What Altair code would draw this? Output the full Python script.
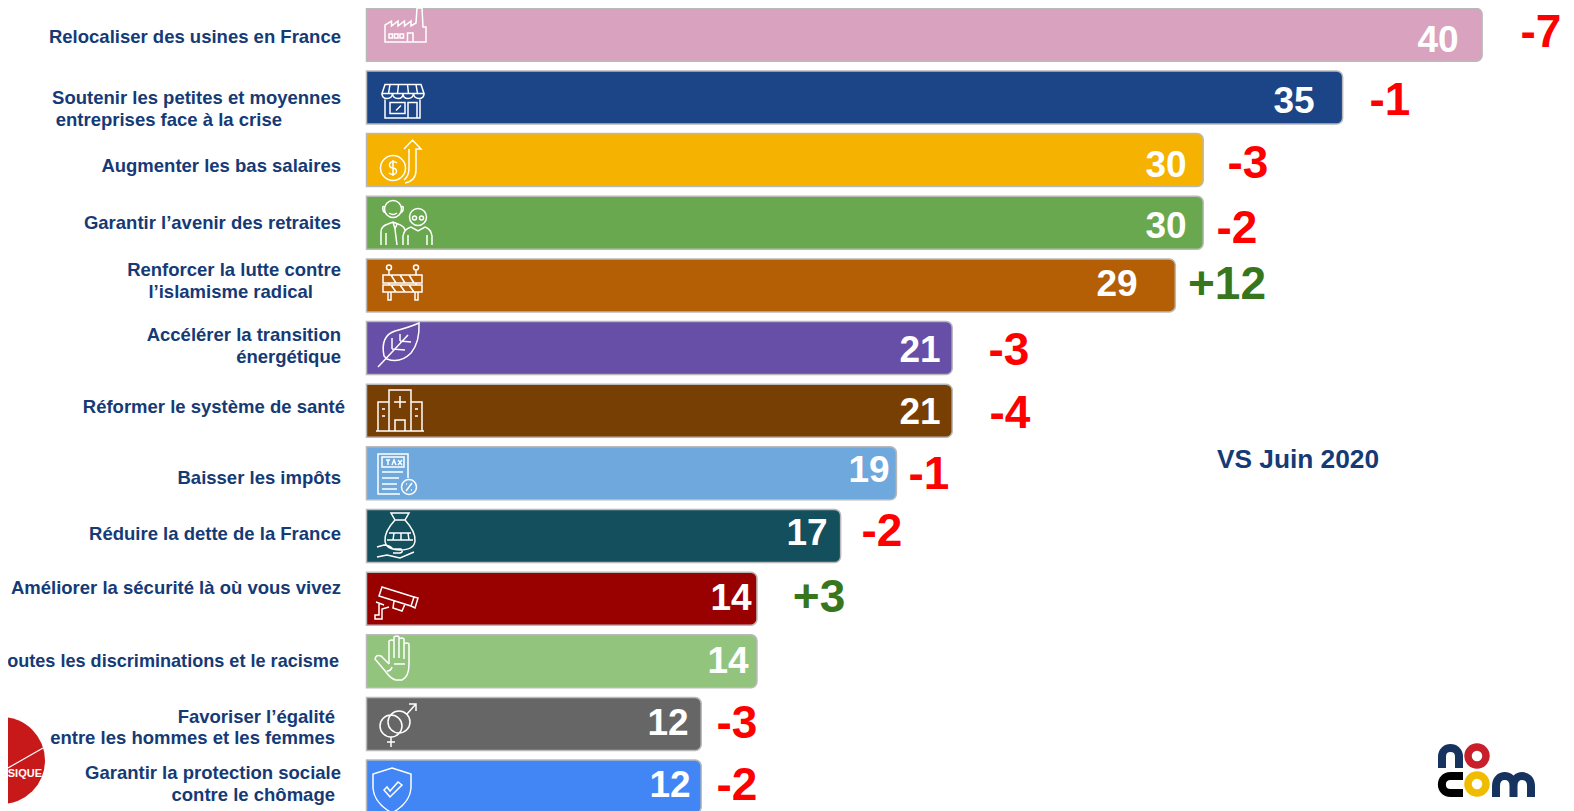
import re
import altair as alt
import pandas as pd

# ---------- chart values ----------
categories = [
    "Relocaliser des usines en France",
    "Soutenir les petites et moyennes entreprises face à la crise",
    "Augmenter les bas salaires",
    "Garantir l’avenir des retraites",
    "Renforcer la lutte contre l’islamisme radical",
    "Accélérer la transition énergétique",
    "Réformer le système de santé",
    "Baisser les impôts",
    "Réduire la dette de la France",
    "Améliorer la sécurité là où vous vivez",
    "Lutter contre toutes les discriminations et le racisme",
    "Favoriser l’égalité entre les hommes et les femmes",
    "Garantir la protection sociale contre le chômage",
]
values = [40, 35, 30, 30, 29, 21, 21, 19, 17, 14, 14, 12, 12]
deltas = ["-7", "-1", "-3", "-2", "+12", "-3", "-4", "-1", "-2", "+3", "", "-3", "-2"]
colors = ["#d9a2bf", "#1c4587", "#f5b200", "#6aa84f", "#b45f06", "#674ea7", "#783f04",
          "#6fa8dc", "#134f5c", "#990000", "#93c47d", "#666666", "#4285f4"]
label_lines = [
    "Relocaliser des usines en France",
    "Soutenir les petites et moyennes", "entreprises face à la crise",
    "Augmenter les bas salaires",
    "Garantir l’avenir des retraites",
    "Renforcer la lutte contre", "l’islamisme radical",
    "Accélérer la transition", "énergétique",
    "Réformer le système de santé",
    "Baisser les impôts",
    "Réduire la dette de la France",
    "Améliorer la sécurité là où vous vivez",
    "outes les discriminations et le racisme",
    "Favoriser l’égalité", "entre les hommes et les femmes",
    "Garantir la protection sociale", "contre le chômage",
]

# ---------- layout of the annotations, in page pixels ----------
label_right = [341, 341, 282, 341, 341, 341, 313, 341, 341, 345, 341, 341, 341, 339, 335, 335, 341, 335]
label_y = [36.5, 97.5, 119.5, 166, 223, 270, 292, 335, 357, 406.5, 478, 534, 588, 662, 717, 738, 773, 795]
label_size = [18.5] * 13 + [18.1] + [18.5] * 4
value_x = [1438, 1294, 1166, 1166, 1117, 920, 920, 869, 807, 731, 728, 668, 670]
value_y = [40.5, 101.5, 165.5, 226.5, 284.5, 350.5, 412.5, 470.5, 534, 598.5, 661.5, 723.5, 785.5]
delta_x = [1541, 1390, 1248, 1237, 1227, 1009, 1010, 929, 882, 819, 0, 737, 737]
delta_y = [33, 101, 164, 229, 285, 351, 414, 475, 532, 598, 0, 724, 786]
icon_x = [405, 403, 400, 405, 403, 400, 400, 400, 400, 397, 390, 395, 392]
icon_y = [25, 97.5, 160, 222, 283, 345, 410, 475, 535, 597, 658, 724, 790]

X0, PX_PER_UNIT, Y0, PX_PER_ROW = 366.5, 27.89, 34.8, 62.65
def X(px): return (px - X0) / PX_PER_UNIT
def Y(py): return (py - Y0) / PX_PER_ROW

xs = alt.Scale(domain=[X(8), X(1566)], nice=False, zero=False, padding=0)
ys = alt.Scale(domain=[Y(8), Y(811)], nice=False, zero=False, reverse=True, padding=0)
def ex(f="x"): return alt.X(f"{f}:Q", scale=xs, axis=None)
def ey(f="y"): return alt.Y(f"{f}:Q", scale=ys, axis=None)

# ---------- icons: drawn in a 100x100 box, turned into the symbol's -1..1 space ----------
def ring(cx, cy, r):
    k = 0.5523 * r
    return (f"M{cx-r} {cy} C{cx-r} {cy-k} {cx-k} {cy-r} {cx} {cy-r} "
            f"C{cx+k} {cy-r} {cx+r} {cy-k} {cx+r} {cy} "
            f"C{cx+r} {cy+k} {cx+k} {cy+r} {cx} {cy+r} "
            f"C{cx-k} {cy+r} {cx-r} {cy+k} {cx-r} {cy} Z ")

def norm(p):
    nums = re.compile(r"-?\d+\.?\d*")
    return nums.sub(lambda m: f"{float(m.group())/50-1:.3f}", p)

icons = [
    # factory
    "M10 84 L10 54 L10 50 L23 42 L23 52 L36 42 L36 52 L49 42 L49 52 L62 42 L62 52 L72 46 L74 16 L84 16 L86 54 L92 54 L92 84 Z "
    "M18 68 L25 68 L25 76 L18 76 Z M29 68 L36 68 L36 76 L29 76 Z M40 68 L47 68 L47 76 L40 76 Z M55 84 L55 66 L66 66 L66 84",
    # shop
    "M14 24 L86 24 L92 42 L8 42 Z M8 42 Q8 52 18 52 Q28 52 29 42 Q30 52 40 52 Q50 52 50 42 Q50 52 60 52 Q70 52 71 42 Q72 52 82 52 Q92 52 92 42 "
    "M24 24 L21 42 M41 24 L39 42 M59 24 L61 42 M76 24 L79 42 "
    "M14 54 L14 91 L84 91 L84 54 M24 60 L54 60 L54 82 L24 82 Z M60 91 L60 60 L78 60 L78 91 M36 76 L46 66",
    # coin and arrow
    ring(36, 66, 25) + "M44 56 Q36 50 30 56 Q26 65 36 66 Q46 68 42 76 Q36 82 28 76 M36 50 L36 82 "
    "M58 28 L75 10 L92 28 L82 28 L82 70 Q82 92 60 96 M68 28 L68 66 Q68 82 58 90",
    # elderly couple
    ring(26, 24, 17) + ring(76, 40, 17) + ring(69, 42, 4) + ring(83, 42, 4) +
    "M9 20 Q4 16 6 26 Q8 32 10 30 M43 20 Q48 16 46 26 Q44 32 42 30 M18 32 Q26 38 34 32 "
    "M2 96 L2 70 Q2 58 16 54 L26 50 L36 54 Q48 58 50 66 M12 96 L12 72 M26 50 L30 64 L34 54 M30 64 L34 96 "
    "M46 96 L46 78 Q48 64 62 60 L76 68 L90 60 Q102 64 104 78 L104 96 M56 96 L56 76 M94 96 L94 76",
    # barrier
    "M10 34 L88 34 L88 50 L10 50 Z M10 54 L88 54 L88 68 L10 68 Z M22 34 L22 24 M76 34 L76 24 "
    + ring(22, 19, 5) + ring(76, 19, 5) +
    "M22 50 L22 54 M76 50 L76 54 M20 68 L20 84 L26 84 L26 68 M74 68 L74 84 L80 84 L80 68 "
    "M26 34 L36 50 M44 34 L54 50 M62 34 L72 50 M26 54 L36 68 M44 54 L54 68 M62 54 L72 68",
    # leaf
    "M18 72 Q10 32 40 22 Q70 14 88 6 Q90 44 72 66 Q50 88 24 78 Z M6 94 L66 30 M34 58 L34 36 M34 58 L60 60 M50 42 L50 28 M50 42 L72 44",
    # hospital
    "M6 92 L6 34 L28 34 M28 92 L28 10 L72 10 L72 92 M72 34 L94 34 L94 92 M2 92 L98 92 M50 22 L50 46 M38 34 L62 34 "
    "M40 92 L40 70 L60 70 L60 92 M14 48 L20 48 M14 62 L20 62 M80 48 L86 48 M80 62 L86 62",
    # tax form
    "M50 88 L6 88 L6 8 L66 8 L66 56 M14 14 L58 14 L58 34 L14 34 Z M22 20 L30 20 M26 20 L26 30 M34 30 L38 20 L42 30 M46 20 L54 30 M54 20 L46 30 "
    "M14 44 L56 44 M14 56 L48 56 M14 68 L44 68 M14 78 L44 78 " + ring(68, 74, 15) + "M62 82 L74 66 M62 68 L64 68 M72 80 L74 80",
    # money bag in hand
    "M40 20 L32 6 L68 6 L60 20 Z M40 20 Q18 44 20 62 Q22 80 50 80 Q78 80 80 62 Q82 44 60 20 M28 46 L72 46 M24 60 L76 60 M38 46 L36 60 M52 46 L52 60 M66 46 L68 60 "
    "M4 74 L18 70 Q28 70 36 78 L52 78 Q58 84 50 86 L36 86 M4 94 L24 90 L50 96 L78 84",
    # security camera
    "M20 30 L84 50 L78 68 L14 48 Z M84 50 L92 52 L86 72 L78 68 M44 58 L42 72 L60 78 L66 64 M8 60 L24 66 M14 64 L14 86 L6 86 L6 94 L20 94 L20 74 L34 70",
    # hand
    "M48 62 L48 16 Q54 12 58 16 L58 50 M58 44 L58 8 Q64 4 68 8 L68 50 M68 44 L68 12 Q74 8 78 12 L78 52 M78 48 L78 22 Q84 18 88 22 L88 62 Q88 88 74 94 L62 94 "
    "Q52 92 42 78 L20 52 Q22 42 32 46 L48 62 M58 62 L80 62 M44 76 Q52 76 54 68",
    # gender symbols
    ring(42, 54, 22) + ring(58, 46, 22) + "M74 30 L90 12 M78 10 L92 10 L92 24 M42 76 L42 96 M34 86 L50 86",
    # shield
    "M50 6 L88 18 L88 46 Q86 76 50 96 Q14 76 12 46 L12 18 Z M34 50 L46 64 L70 40 L62 34 L46 52 L40 44 Z",
]
icon_df = pd.DataFrame({
    "x": [X(v) for v in icon_x],
    "y": [Y(v) for v in icon_y],
    "path": [norm(p) for p in icons],
})

# ---------- tables ----------
bars = pd.DataFrame({"category": categories, "value": values, "base": 0,
                     "rank": list(range(len(categories)))})
labels = pd.DataFrame({"text": label_lines, "size": label_size,
                       "x": [X(v) for v in label_right], "y": [Y(v) for v in label_y]})
val_df = pd.DataFrame({"text": [str(v) for v in values],
                       "x": [X(v) for v in value_x], "y": [Y(v) for v in value_y]})
del_df = pd.DataFrame({"text": deltas, "x": [X(v) for v in delta_x], "y": [Y(v) for v in delta_y]})
del_df = del_df[del_df["text"] != ""].reset_index(drop=True)
del_df["color"] = ["#38761d" if t.startswith("+") else "#ff0000" for t in del_df["text"]]

FONT = "Liberation Sans"
NAVY = "#153a75"

bar_layer = alt.Chart(bars).mark_bar(
    orient="horizontal", size=53, stroke="#b9b9b9", strokeWidth=1.5,
    cornerRadiusTopRight=6, cornerRadiusBottomRight=6,
).encode(
    x=ex("value"), x2=alt.X2("base:Q"), y=ey("rank"),
    color=alt.Color("category:N", scale=alt.Scale(domain=categories, range=colors), legend=None),
)
icon_layer = alt.Chart(icon_df).mark_point(
    filled=False, size=2500, stroke="white", strokeWidth=1.5, opacity=1
).encode(x=ex(), y=ey(), shape=alt.Shape("path:N", scale=None, legend=None))

label_layer = alt.Chart(labels).mark_text(
    font=FONT, fontWeight="bold", align="right", baseline="middle", color=NAVY
).encode(x=ex(), y=ey(), text="text:N", size=alt.Size("size:Q", scale=None, legend=None))
value_layer = alt.Chart(val_df).mark_text(
    font=FONT, fontWeight="bold", fontSize=37, align="center", baseline="middle", color="white"
).encode(x=ex(), y=ey(), text="text:N")
delta_layer = alt.Chart(del_df).mark_text(
    font=FONT, fontWeight="bold", fontSize=46, align="center", baseline="middle"
).encode(x=ex(), y=ey(), text="text:N", color=alt.Color("color:N", scale=None, legend=None))

note = alt.Chart(pd.DataFrame({"text": ["VS Juin 2020"], "x": [X(1298)], "y": [Y(460)]})).mark_text(
    font=FONT, fontWeight="bold", fontSize=26.3, align="center", baseline="middle", color=NAVY
).encode(x=ex(), y=ey(), text="text:N")

# ---------- logos ----------
red_disc = alt.Chart(pd.DataFrame({"x": [X(1.5)], "y": [Y(760.5)]})).mark_point(
    shape="circle", filled=True, size=87 * 87, color="#c8191a", opacity=1
).encode(x=ex(), y=ey())
red_line = alt.Chart(pd.DataFrame({"x": [X(8)], "x2": [X(43)], "y": [Y(768)], "y2": [Y(748)]})).mark_rule(
    color="white", strokeWidth=1.2
).encode(x=ex(), x2="x2:Q", y=ey(), y2="y2:Q")
red_text = alt.Chart(pd.DataFrame({"text": ["SIQUE"], "x": [X(42)], "y": [Y(773.5)]})).mark_text(
    font=FONT, fontWeight="bold", fontSize=11, align="right", baseline="middle", color="white"
).encode(x=ex(), y=ey(), text="text:N")

logo_paths = pd.DataFrame({
    "path": [norm("M6 48 L6 36.5 C6 25.2 23 25.2 23 36.5 L23 48"),
             norm("M27 56 L14.5 56 C3 56 3 73 14.5 73 L27 73"),
             norm("M60 77 L60 66 C60 52.7 77.5 52.7 77.5 66 L77.5 77 M77.5 66 C77.5 52.7 95 52.7 95 66 L95 77")],
    "color": ["#16325f", "#000000", "#16325f"],
    "x": [X(1486)] * 3, "y": [Y(770)] * 3,
})
logo_strokes = alt.Chart(logo_paths).mark_point(filled=False, size=10000, strokeWidth=8, opacity=1).encode(
    x=ex(), y=ey(), shape=alt.Shape("path:N", scale=None, legend=None),
    stroke=alt.Stroke("color:N", scale=None, legend=None),
)
logo_rings = alt.Chart(pd.DataFrame({
    "x": [X(1477), X(1477)], "y": [Y(756), Y(784)], "color": ["#c8202a", "#f0bc00"],
})).mark_point(shape="circle", filled=False, size=18 * 18, strokeWidth=7.5, opacity=1).encode(
    x=ex(), y=ey(), stroke=alt.Stroke("color:N", scale=None, legend=None),
)

chart = alt.layer(
    bar_layer, icon_layer, red_disc, red_line, red_text, label_layer, value_layer, delta_layer,
    note, logo_strokes, logo_rings,
).properties(width=1558, height=803, padding=0, autosize="none", background="white"
).configure_view(stroke=None)

chart.save("out.html", embed_options={"renderer": "svg", "actions": False})
